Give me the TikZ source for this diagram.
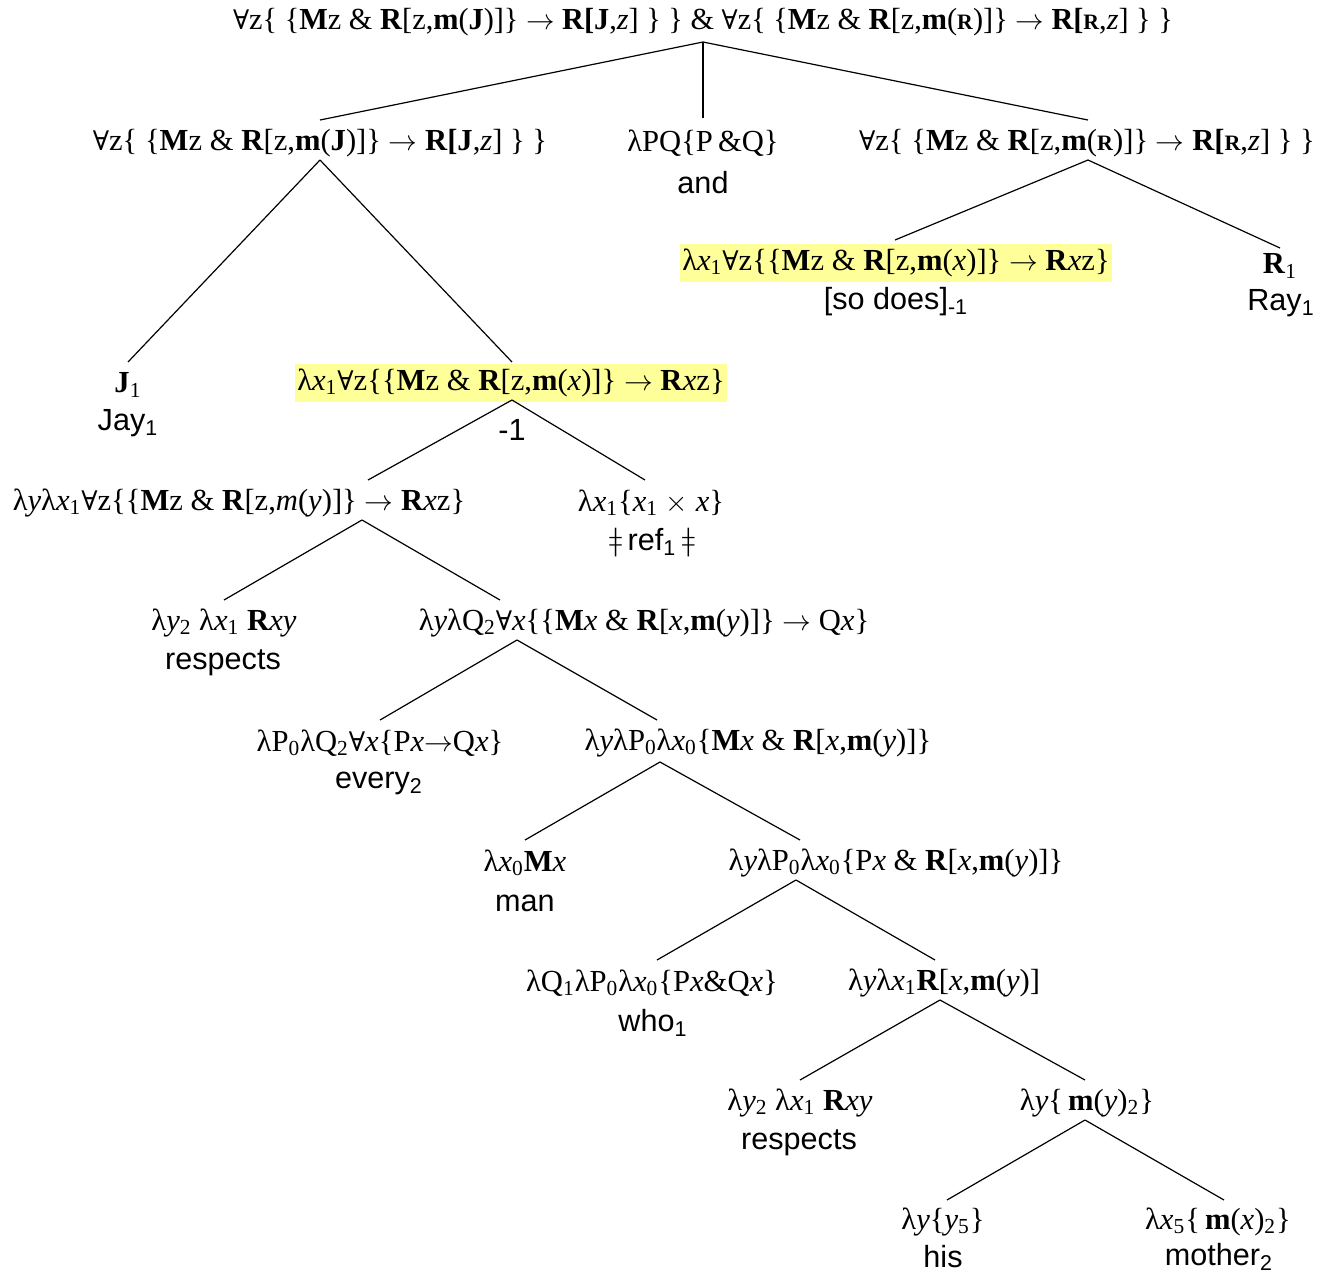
\documentclass[tikz,border=0pt]{standalone}
\usepackage{fontspec}
\setmainfont{Liberation Serif}
\newfontfamily\wordfont{Liberation Sans}
\newfontfamily\allfont{DejaVu Serif}
\newfontfamily\clickfont{DejaVu Sans ExtraLight}
\definecolor{hilite}{HTML}{FFFF99}
\newcommand{\lam}{λ}
\newcommand{\fa}{{\allfont\fontsize{13.5}{15}\selectfont ∀}}
\newcommand{\imp}{\ensuremath{\rightarrow}}
\newcommand{\sub}[1]{\textsubscript{#1}}
\newcommand{\bR}{\textbf{R}}
\newcommand{\bM}{\textbf{M}}
\newcommand{\bm}{\textbf{m}}
\newcommand{\ix}{\textit{x}}
\newcommand{\iy}{\textit{y}}
\newcommand{\smR}{\textbf{\fontsize{11}{12}\selectfont R}}
\tikzset{
  formula/.style={inner sep=0pt, font=\fontsize{15.3}{17}\selectfont},
  hl/.style={formula, fill=hilite, inner xsep=1pt, inner ysep=2.5pt},
  word/.style={inner sep=0pt, font=\wordfont\fontsize{15.3}{17}\selectfont},
  branch/.style={line width=0.6pt}
}
\begin{document}
\begin{tikzpicture}[x=0.5pt,y=-0.5pt]
\useasboundingbox (0,0) rectangle (1323,1276);

% root
\node[formula, xscale=0.99] (top) at (703,22) {\fa z\{ \{\bM z \& \bR[z,\bm(\textbf{J})]\} \imp{} \textbf{R[J},\textit{z}] \} \} \& \fa z\{ \{\bM z \& \bR[z,\bm(\smR)]\} \imp{} \textbf{R[}\smR,\textit{z}] \} \}};
\coordinate (top-b) at (703,42);

% second level
\node[formula] (lj) at (320,143) {\fa z\{ \{\bM z \& \bR[z,\bm(\textbf{J})]\} \imp{} \textbf{R[J},\textit{z}] \} \}};
\coordinate (lj-t) at (320,120);
\coordinate (lj-b) at (320,160);
\node[formula] (conj) at (703,143) {\lam PQ\{P\,\&Q\}};
\node[word] (conj-w) at (703,183) {and};
\coordinate (conj-t) at (703,118);
\node[formula] (rr) at (1087,143) {\fa z\{ \{\bM z \& \bR[z,\bm(\smR)]\} \imp{} \textbf{R[}\smR,\textit{z}] \} \}};
\coordinate (rr-t) at (1088,120);
\coordinate (rr-b) at (1088,160);

% under the right conjunct
\node[hl] (sodoes) at (896,263) {\lam\ix\sub{1}\fa z\{\{\bM z \& \bR[z,\bm(\ix)]\} \imp{} \bR\ix z\}};
\node[word] (sodoes-w) at (896,302) {[so does]\sub{-1}};
\coordinate (sodoes-t) at (895,240);
\node[formula] (ray) at (1280,266) {\bR\sub{1}};
\node[word] (ray-w) at (1281,303) {Ray\sub{1}};
\coordinate (ray-t) at (1280,248);

% under the left conjunct
\node[formula] (jay) at (128,385) {\textbf{J}\sub{1}};
\node[word] (jay-w) at (128,423) {Jay\sub{1}};
\coordinate (jay-t) at (128,362);
\node[hl] (vp) at (511,383) {\lam\ix\sub{1}\fa z\{\{\bM z \& \bR[z,\bm(\ix)]\} \imp{} \bR\ix z\}};
\coordinate (vp-t) at (512,362);
\coordinate (vp-b) at (512,400);
\node[word] (vp-lab) at (512,430) {-1};

\node[formula] (vpy) at (239,503) {\lam\iy\lam\ix\sub{1}\fa z\{\{\bM z \& \bR[z,\textit{m}(\iy)]\} \imp{} \bR\ix z\}};
\coordinate (vpy-t) at (368,480);
\coordinate (vpy-b) at (362,520);
\node[formula] (refl) at (651,503) {\lam\ix\sub{1}\{\ix\sub{1} \ensuremath{\times} \ix\}};
\node[word] (refl-w) at (652,543) {{\clickfont ǂ}\,ref\sub{1}\,{\clickfont ǂ}};
\coordinate (refl-t) at (645,480);

% respects + object
\node[formula] (resp1) at (224,623) {\lam\iy\sub{2} \lam\ix\sub{1} \bR\ix\iy};
\node[word] (resp1-w) at (223,663) {respects};
\coordinate (resp1-t) at (224,600);
\node[formula] (obj) at (644,623) {\lam\iy\lam Q\sub{2}\fa\ix\{\{\bM\ix{} \& \bR[\ix,\bm(\iy)]\} \imp{} Q\ix\}};
\coordinate (obj-t) at (500,600);
\coordinate (obj-b) at (517,640);

% every + restrictor
\node[formula] (every) at (380,743) {\lam P\sub{0}\lam Q\sub{2}\fa\ix\{P\ix\imp Q\ix\}};
\node[word] (every-w) at (379,783) {every\sub{2}};
\coordinate (every-t) at (380,720);
\node[formula] (nbar) at (758,743) {\lam\iy\lam P\sub{0}\lam\ix\sub{0}\{\bM\ix{} \& \bR[\ix,\bm(\iy)]\}};
\coordinate (nbar-t) at (657,720);
\coordinate (nbar-b) at (660,762);

% man + relative clause
\node[formula] (man) at (525,863) {\lam\ix\sub{0}\bM\ix};
\node[word] (man-w) at (525,903) {man};
\coordinate (man-t) at (525,840);
\node[formula] (rel) at (896,863) {\lam\iy\lam P\sub{0}\lam\ix\sub{0}\{P\ix{} \& \bR[\ix,\bm(\iy)]\}};
\coordinate (rel-t) at (800,840);
\coordinate (rel-b) at (796,880);

% who + clause
\node[formula] (who) at (652,983) {\lam Q\sub{1}\lam P\sub{0}\lam\ix\sub{0}\{P\ix\&Q\ix\}};
\node[word] (who-w) at (653,1023) {who\sub{1}};
\coordinate (who-t) at (657,960);
\node[formula] (cl) at (944,983) {\lam\iy\lam\ix\sub{1}\bR[\ix,\bm(\iy)]};
\coordinate (cl-t) at (935,960);
\coordinate (cl-b) at (940,1000);

% respects + his mother
\node[formula] (resp2) at (800,1103) {\lam\iy\sub{2} \lam\ix\sub{1} \bR\ix\iy};
\node[word] (resp2-w) at (799,1143) {respects};
\coordinate (resp2-t) at (800,1080);
\node[formula] (dp) at (1087,1103) {\lam\iy\{\,\bm(\iy)\sub{2}\}};
\coordinate (dp-t) at (1085,1080);
\coordinate (dp-b) at (1085,1120);

\node[formula] (his) at (943,1222) {\lam\iy\{\iy\sub{5}\}};
\node[word] (his-w) at (943,1257) {his};
\coordinate (his-t) at (947,1200);
\node[formula] (mother) at (1218,1222) {\lam\ix\sub{5}\{\,\bm(\ix)\sub{2}\}};
\node[word] (mother-w) at (1219,1257) {mother\sub{2}};
\coordinate (mother-t) at (1224,1200);

% branches
\draw[branch] (top-b) -- (lj-t);
\draw[branch] (top-b) -- (conj-t);
\draw[branch] (top-b) -- (rr-t);
\draw[branch] (rr-b) -- (sodoes-t);
\draw[branch] (rr-b) -- (ray-t);
\draw[branch] (lj-b) -- (jay-t);
\draw[branch] (lj-b) -- (vp-t);
\draw[branch] (vp-b) -- (vpy-t);
\draw[branch] (vp-b) -- (refl-t);
\draw[branch] (vpy-b) -- (resp1-t);
\draw[branch] (vpy-b) -- (obj-t);
\draw[branch] (obj-b) -- (every-t);
\draw[branch] (obj-b) -- (nbar-t);
\draw[branch] (nbar-b) -- (man-t);
\draw[branch] (nbar-b) -- (rel-t);
\draw[branch] (rel-b) -- (who-t);
\draw[branch] (rel-b) -- (cl-t);
\draw[branch] (cl-b) -- (resp2-t);
\draw[branch] (cl-b) -- (dp-t);
\draw[branch] (dp-b) -- (his-t);
\draw[branch] (dp-b) -- (mother-t);
\end{tikzpicture}
\end{document}
